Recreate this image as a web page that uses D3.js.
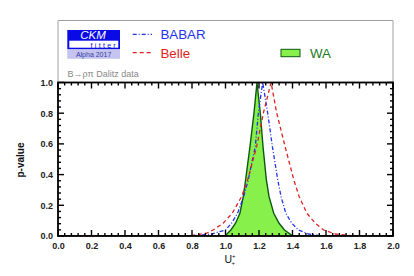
<!DOCTYPE html>
<html><head><meta charset="utf-8">
<script src="https://cdn.jsdelivr.net/npm/d3@7"></script>
<style>
html,body{margin:0;padding:0;background:#fff;}
svg{display:block;font-family:"Liberation Sans",Arial,sans-serif;}
</style></head>
<body>
<svg id="c" width="414" height="276"></svg>
<script>
// ---- data ----
const waU    = [0.00, 0.96, 1.00, 1.032, 1.06, 1.086, 1.106, 1.12, 1.146, 1.17, 1.188, 1.208, 1.224, 1.244, 1.26, 1.288, 1.32, 1.352, 1.396, 1.44, 2.00];
const waP    = [0.00, 0.00, 0.004, 0.039, 0.083, 0.148, 0.256, 0.365, 0.582, 0.80, 1.00, 0.80, 0.582, 0.365, 0.256, 0.148, 0.083, 0.039, 0.004, 0.00, 0.00];
const babarU = [0.00, 0.80, 0.916, 1.00, 1.036, 1.072, 1.108, 1.136, 1.156, 1.178, 1.196, 1.222, 1.252, 1.28, 1.312, 1.332, 1.36, 1.396, 1.436, 1.496, 1.56, 1.65, 2.00];
const babarP = [0.00, 0.00, 0.013, 0.039, 0.083, 0.148, 0.256, 0.365, 0.473, 0.582, 0.80, 1.00, 0.80, 0.582, 0.365, 0.256, 0.148, 0.083, 0.039, 0.013, 0.003, 0.00, 0.00];
const belleU = [0.00, 0.70, 0.80, 0.888, 0.926, 0.986, 1.04, 1.096, 1.132, 1.186, 1.226, 1.272, 1.306, 1.356, 1.408, 1.44, 1.486, 1.536, 1.586, 1.656, 1.75, 1.85, 2.00];
const belleP = [0.00, 0.00, 0.004, 0.018, 0.039, 0.083, 0.148, 0.256, 0.365, 0.582, 0.80, 1.00, 0.80, 0.582, 0.365, 0.256, 0.148, 0.083, 0.039, 0.013, 0.003, 0.00, 0.00];
const xTicks = [0.0, 0.2, 0.4, 0.6, 0.8, 1.0, 1.2, 1.4, 1.6, 1.8, 2.0];
const yTicks = [0.0, 0.2, 0.4, 0.6, 0.8, 1.0];
const legendNames = ["BABAR", "Belle", "WA"];

// ---- layout ----
const L = 58, R = 393, T = 82.5, B = 236;
const svg = d3.select("#c");
const x = d3.scaleLinear().domain([0, 2]).range([L, R]);
const y = d3.scaleLinear().domain([0, 1]).range([B, T]);
const pts = (U, P) => U.map((u, i) => [u, P[i]]);

svg.append("clipPath").attr("id","pc").append("rect")
  .attr("x", L).attr("y", T).attr("width", R-L).attr("height", B-T);
const g = svg.append("g").attr("clip-path","url(#pc)");

const line = d3.line().x(d => x(d[0])).y(d => y(d[1]));
const area = d3.area().x(d => x(d[0])).y0(y(0)).y1(d => y(d[1]));

g.append("path").datum(pts(waU, waP)).attr("d", area).attr("fill", "#88f04a");
g.append("path").datum(pts(waU, waP)).attr("d", line).attr("fill","none").attr("stroke","#0b5a12").attr("stroke-width",1.4);
g.append("path").datum(pts(babarU, babarP)).attr("d", line).attr("fill","none")
  .attr("stroke","#2233ee").attr("stroke-width",1.3).attr("stroke-dasharray","4,2,1,2");
g.append("path").datum(pts(belleU, belleP)).attr("d", line).attr("fill","none")
  .attr("stroke","#dd2222").attr("stroke-width",1.3).attr("stroke-dasharray","4,3");

// ---- legend box ----
svg.append("path").attr("d", `M${L},${T} V20.5 H${R} V${T}`).attr("fill","none").attr("stroke","#a0a0a0").attr("stroke-width",1);

// CKM fitter logo
svg.append("rect").attr("x",67.3).attr("y",30).attr("width",52.7).attr("height",19.3).attr("fill","#0a0ae6");
svg.append("rect").attr("x",69.3).attr("y",40.7).attr("width",49).attr("height",7).attr("fill","#fff");
svg.append("text").attr("x",93).attr("y",38.9).attr("text-anchor","middle").attr("fill","#fff")
  .attr("font-size",11.5).attr("font-style","italic").text("CKM");
svg.append("text").attr("x",118).attr("y",47.6).attr("text-anchor","end").attr("fill","#0a0ae6")
  .attr("font-size",7).attr("letter-spacing",2.3).text("fitter");
svg.append("rect").attr("x",67.3).attr("y",49.8).attr("width",52.7).attr("height",9).attr("fill","#c4c4ee");
svg.append("text").attr("x",93.6).attr("y",57.2).attr("text-anchor","middle").attr("fill","#3a3aa8")
  .attr("font-size",7).text("Alpha 2017");

// legend entries
svg.append("line").attr("x1",132.7).attr("x2",152).attr("y1",34.3).attr("y2",34.3)
  .attr("stroke","#2233ee").attr("stroke-width",1.3).attr("stroke-dasharray","4,2,1,2");
svg.append("text").attr("x",160.5).attr("y",39.4).attr("fill","#2233ee").attr("font-size",13.3).text(legendNames[0]);
svg.append("line").attr("x1",132.7).attr("x2",152).attr("y1",52.7).attr("y2",52.7)
  .attr("stroke","#dd2222").attr("stroke-width",1.3).attr("stroke-dasharray","4,3");
svg.append("text").attr("x",160.5).attr("y",57.6).attr("fill","#dd2222").attr("font-size",13.3).text(legendNames[1]);
svg.append("rect").attr("x",281).attr("y",49.3).attr("width",19).attr("height",7.4)
  .attr("fill","#88f04a").attr("stroke","#0b5a12").attr("stroke-width",1);
svg.append("text").attr("x",310).attr("y",57.6).attr("fill","#1a7a1a").attr("font-size",13.3).text(legendNames[2]);

svg.append("text").attr("x",67.5).attr("y",77.3).attr("fill","#888").attr("font-size",9).text("B\u2192\u03c1\u03c0 Dalitz data");

// ---- axes (ticks inward on all four sides) ----
const minorX = d3.range(0, 2.0001, 0.04);
const minorY = d3.range(0, 1.0001, 0.04);
const isMajor = v => Math.abs(v*5 - Math.round(v*5)) < 1e-6;
const ax = svg.append("g");
minorX.forEach(v => {
  const len = isMajor(v) ? 6 : 3;
  ax.append("line").attr("x1",x(v)).attr("x2",x(v)).attr("y1",B).attr("y2",B-len).attr("stroke","#000").attr("stroke-width",1.4);
  ax.append("line").attr("x1",x(v)).attr("x2",x(v)).attr("y1",T).attr("y2",T+len).attr("stroke","#000").attr("stroke-width",1.4);
});
minorY.forEach(v => {
  const len = isMajor(v) ? 6 : 3;
  ax.append("line").attr("x1",L).attr("x2",L+len).attr("y1",y(v)).attr("y2",y(v)).attr("stroke","#000").attr("stroke-width",1.4);
  ax.append("line").attr("x1",R).attr("x2",R-len).attr("y1",y(v)).attr("y2",y(v)).attr("stroke","#000").attr("stroke-width",1.4);
});
ax.append("rect").attr("x",L).attr("y",T).attr("width",R-L).attr("height",B-T)
  .attr("fill","none").attr("stroke","#000").attr("stroke-width",1.8);

const xa = d3.axisBottom(x).tickValues(xTicks).tickSize(0).tickPadding(0).tickFormat(d3.format(".1f"));
const gx = svg.append("g").attr("transform",`translate(0,${B})`).call(xa);
gx.select(".domain").remove();
gx.selectAll("text").attr("dy",null).attr("y",12.5).attr("font-size",9).attr("font-weight","bold")
  .attr("font-family","Liberation Sans, Arial, sans-serif").attr("fill","#222");

const ya = d3.axisLeft(y).tickValues(yTicks).tickSize(0).tickPadding(0).tickFormat(d3.format(".1f"));
const gy = svg.append("g").attr("transform",`translate(${L},0)`).call(ya);
gy.select(".domain").remove();
gy.selectAll("text").attr("x",-5).attr("dy","0.32em").attr("font-size",9).attr("font-weight","bold")
  .attr("font-family","Liberation Sans, Arial, sans-serif").attr("fill","#222");

// axis titles
const xt = svg.append("text").attr("x",224.5).attr("y",262.5).attr("font-size",10.5).attr("fill","#111");
xt.append("tspan").text("U");
xt.append("tspan").attr("font-size",6).attr("dy",-4.5).text("+");
xt.append("tspan").attr("font-size",6).attr("dx",-4).attr("dy",7).text("+");

svg.append("text").attr("transform","translate(24,160) rotate(-90)").attr("text-anchor","middle")
  .attr("font-size",10).attr("font-weight","bold").attr("fill","#111").text("p-value");
</script>
</body></html>
